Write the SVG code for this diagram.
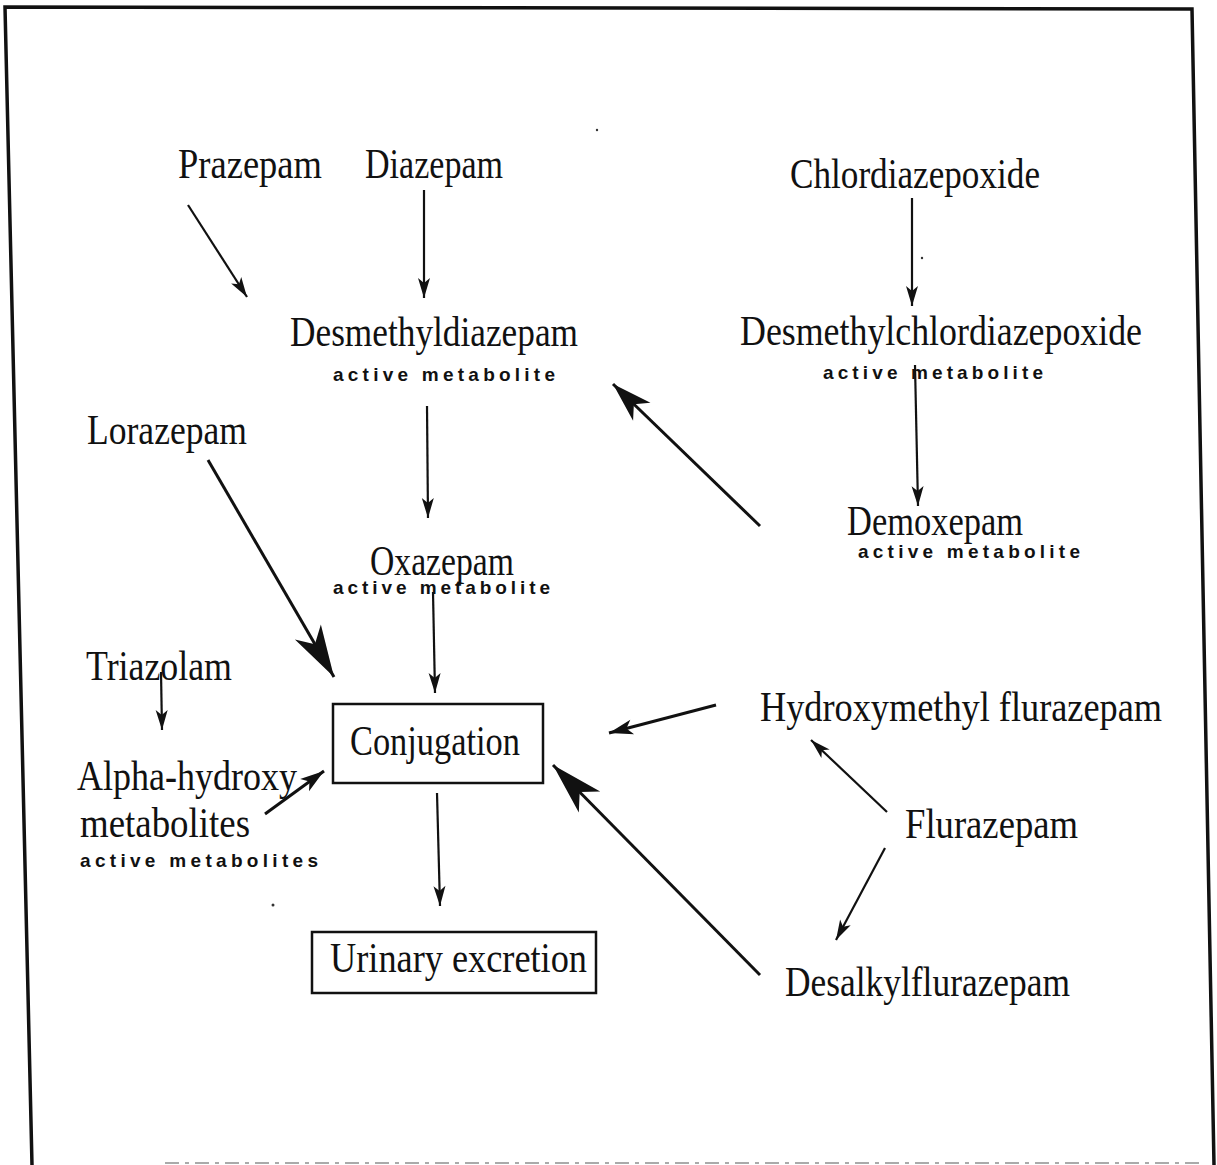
<svg xmlns="http://www.w3.org/2000/svg" width="1217" height="1165" viewBox="0 0 1217 1165">
<style>
.t{font-family:"Liberation Serif","DejaVu Serif",serif;font-size:42px;fill:#111}
.s{font-family:"Liberation Sans","DejaVu Sans",sans-serif;font-size:19px;font-weight:bold;fill:#111}
.ln{stroke:#111;stroke-width:2.2;fill:none}
.lb{stroke:#111;stroke-width:3;fill:none}
.box{stroke:#111;stroke-width:2.5;fill:none}
</style>
<defs>
<marker id="thin" markerUnits="userSpaceOnUse" viewBox="-22 -8 24 16" markerWidth="24" markerHeight="16" refX="0" refY="0" orient="auto">
<path d="M0,0 L-20,-6 L-15,0 L-20,6 Z" fill="#111"/>
</marker>
<marker id="med" markerUnits="userSpaceOnUse" viewBox="-26 -9 28 18" markerWidth="28" markerHeight="18" refX="0" refY="0" orient="auto">
<path d="M0,0 L-24,-7.5 L-18,0 L-24,7.5 Z" fill="#111"/>
</marker>
<marker id="mid" markerUnits="userSpaceOnUse" viewBox="-42 -14 44 28" markerWidth="44" markerHeight="28" refX="0" refY="0" orient="auto">
<path d="M0,0 L-40,-12.5 L-29,0 L-40,12.5 Z" fill="#111"/>
</marker>
<marker id="big" markerUnits="userSpaceOnUse" viewBox="-56 -18 58 36" markerWidth="58" markerHeight="36" refX="0" refY="0" orient="auto">
<path d="M0,0 L-52,-15 L-38,0 L-52,15 Z" fill="#111"/>
</marker>
</defs>
<rect width="1217" height="1165" fill="#fff"/>
<g id="frame">
<path d="M32,1165 L5,7 L1192,9 L1214,1165" stroke="#111" stroke-width="3.5" fill="none"/>
<line x1="165" y1="1163" x2="1200" y2="1163" stroke="#aaa" stroke-width="2" stroke-dasharray="14 6 4 6"/>
<circle cx="597" cy="130" r="1.2" fill="#333"/>
<circle cx="922" cy="258" r="1.2" fill="#333"/>
<circle cx="273" cy="905" r="1.5" fill="#333"/>
</g>
<g id="connectors">
<line class="ln" x1="188" y1="205" x2="247" y2="297" marker-end="url(#thin)"/>
<line class="ln" x1="424" y1="190" x2="424" y2="298" marker-end="url(#thin)"/>
<line class="ln" x1="912" y1="198" x2="912" y2="306" marker-end="url(#thin)"/>
<line class="ln" x1="427" y1="406" x2="428" y2="518" marker-end="url(#thin)"/>
<line class="ln" x1="915" y1="365" x2="918" y2="506" marker-end="url(#thin)"/>
<line class="lb" x1="760" y1="526" x2="613" y2="384" marker-end="url(#mid)"/>
<line class="lb" x1="208" y1="460" x2="334" y2="677" marker-end="url(#big)"/>
<line class="ln" x1="433" y1="592" x2="435" y2="693" marker-end="url(#thin)"/>
<line class="ln" x1="437" y1="793" x2="440" y2="906" marker-end="url(#thin)"/>
<line class="ln" x1="161" y1="672" x2="162" y2="730" marker-end="url(#thin)"/>
<line class="lb" x1="265" y1="814" x2="324" y2="771" marker-end="url(#med)"/>
<line class="lb" x1="716" y1="705" x2="609" y2="733" marker-end="url(#med)"/>
<line class="lb" x1="760" y1="975" x2="553" y2="765" marker-end="url(#big)"/>
<line class="ln" x1="887" y1="812" x2="811" y2="740" marker-end="url(#thin)"/>
<line class="ln" x1="885" y1="848" x2="836" y2="940" marker-end="url(#thin)"/>
</g>
<g id="prazepam"><text class="t" x="178" y="178" textLength="144" lengthAdjust="spacingAndGlyphs">Prazepam</text></g>
<g id="diazepam"><text class="t" x="365" y="178" textLength="138" lengthAdjust="spacingAndGlyphs">Diazepam</text></g>
<g id="chlordiazepoxide"><text class="t" x="790" y="188" textLength="250" lengthAdjust="spacingAndGlyphs">Chlordiazepoxide</text></g>
<g id="desmethyldiazepam">
<text class="t" x="290" y="346" textLength="288" lengthAdjust="spacingAndGlyphs">Desmethyldiazepam</text>
<text class="s" x="333" y="381" textLength="222" lengthAdjust="spacing">active metabolite</text>
</g>
<g id="desmethylchlordiazepoxide">
<text class="t" x="740" y="345" textLength="402" lengthAdjust="spacingAndGlyphs">Desmethylchlordiazepoxide</text>
<text class="s" x="823" y="379" textLength="220" lengthAdjust="spacing">active metabolite</text>
</g>
<g id="lorazepam"><text class="t" x="87" y="444" textLength="160" lengthAdjust="spacingAndGlyphs">Lorazepam</text></g>
<g id="demoxepam">
<text class="t" x="847" y="535" textLength="176" lengthAdjust="spacingAndGlyphs">Demoxepam</text>
<text class="s" x="858" y="558" textLength="222" lengthAdjust="spacing">active metabolite</text>
</g>
<g id="oxazepam">
<text class="t" x="370" y="575" textLength="144" lengthAdjust="spacingAndGlyphs">Oxazepam</text>
<text class="s" x="333" y="594" textLength="217" lengthAdjust="spacing">active metabolite</text>
</g>
<g id="triazolam"><text class="t" x="86" y="680" textLength="146" lengthAdjust="spacingAndGlyphs">Triazolam</text></g>
<g id="conjugation">
<rect class="box" x="333" y="704" width="210" height="79"/>
<text class="t" x="350" y="755" textLength="170" lengthAdjust="spacingAndGlyphs">Conjugation</text>
</g>
<g id="hydroxymethyl-flurazepam"><text class="t" x="760" y="721" textLength="402" lengthAdjust="spacingAndGlyphs">Hydroxymethyl flurazepam</text></g>
<g id="alpha-hydroxy-metabolites">
<text class="t" x="77" y="790" textLength="220" lengthAdjust="spacingAndGlyphs">Alpha-hydroxy</text>
<text class="t" x="80" y="837" textLength="170" lengthAdjust="spacingAndGlyphs">metabolites</text>
<text class="s" x="80" y="867" textLength="238" lengthAdjust="spacing">active metabolites</text>
</g>
<g id="flurazepam"><text class="t" x="905" y="838" textLength="173" lengthAdjust="spacingAndGlyphs">Flurazepam</text></g>
<g id="urinary-excretion">
<rect class="box" x="312" y="932" width="284" height="61"/>
<text class="t" x="330" y="972" textLength="257" lengthAdjust="spacingAndGlyphs">Urinary excretion</text>
</g>
<g id="desalkylflurazepam"><text class="t" x="785" y="996" textLength="285" lengthAdjust="spacingAndGlyphs">Desalkylflurazepam</text></g>
</svg>
